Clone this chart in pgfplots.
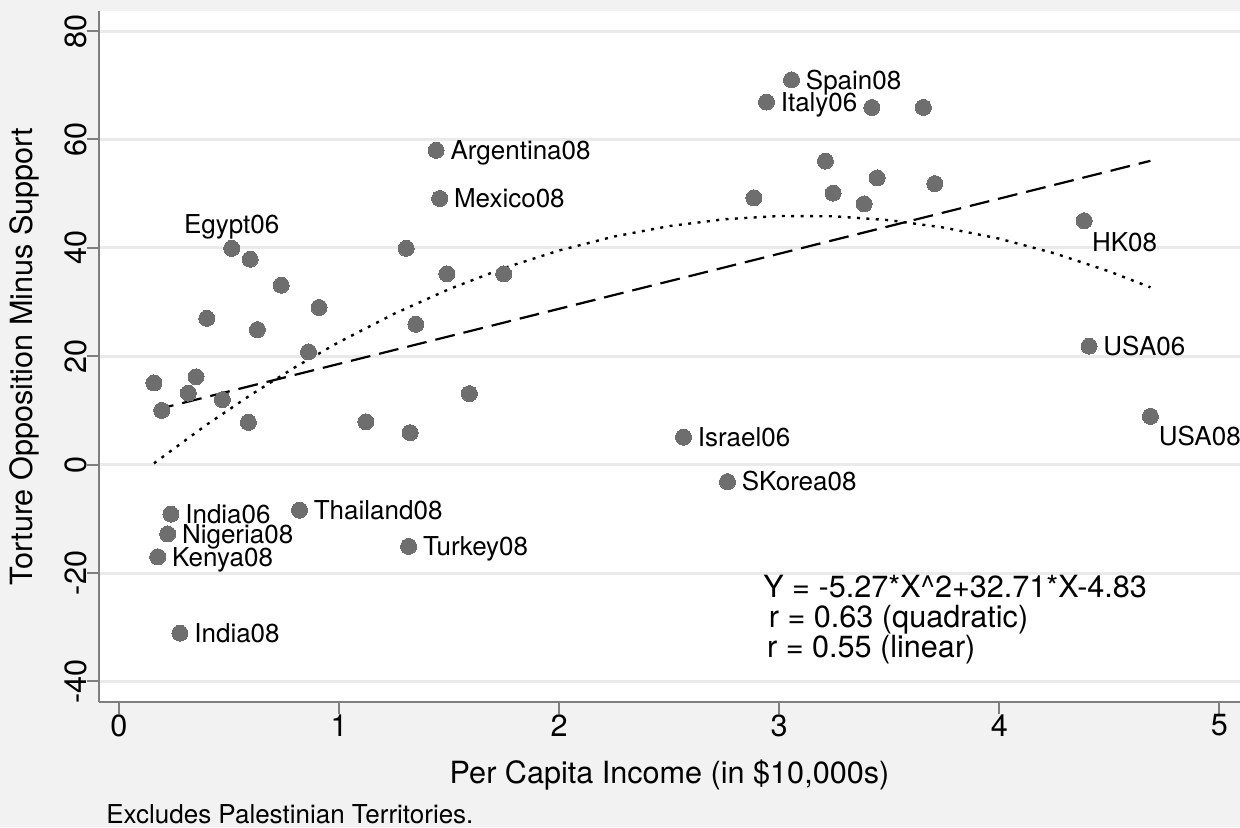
\documentclass[border=0pt]{standalone}
\usepackage{fontspec}
\setmainfont{TeX Gyre Heros}
\usepackage{pgfplots}
\pgfplotsset{compat=1.18}
\definecolor{bgc}{HTML}{F2F2F2}
\definecolor{gridc}{HTML}{EAEAEA}
\definecolor{axc}{HTML}{7F7F7F}
\definecolor{mkc}{HTML}{6E6E6E}
\newcommand{\axfont}{\fontsize{15.3}{18}\selectfont}
\newcommand{\lbfont}{\fontsize{13}{15}\selectfont}
\tikzset{lbl/.style={font=\lbfont, inner sep=0pt, text=black}}
\pgfplotstableread{
x y
3.056 71.0
2.942 66.9
3.421 65.9
3.655 65.9
3.210 56.0
3.445 52.9
3.707 51.85
3.245 50.1
2.885 49.2
3.386 48.1
4.386 45.0
4.408 21.85
4.687 8.9
2.565 5.06
2.765 -3.15
1.441 58.0
1.457 49.1
0.512 39.9
0.596 37.9
0.737 33.1
0.399 27.0
0.629 24.9
0.909 29.0
0.861 20.8
1.305 39.9
1.490 35.2
1.748 35.2
1.349 25.9
1.592 13.1
1.122 7.9
1.323 5.9
0.159 15.06
0.350 16.2
0.315 13.2
0.470 12.0
0.194 10.0
0.588 7.8
0.820 -8.4
0.236 -9.13
0.221 -12.8
0.176 -17.0
1.316 -15.1
0.277 -31.1
}\pts
\begin{document}
\begin{tikzpicture}
\fill[bgc] (-49.5pt,-62.5pt) rectangle (570.5pt,351pt);
\begin{axis}[
  at={(0,0)}, anchor=south west,
  scale only axis, width=570.5pt, height=345.5pt,
  xmin=-0.0909, xmax=5.094, ymin=-43.8, ymax=83.69,
  axis background/.style={fill=white},
  axis x line*=bottom, axis y line*=left,
  axis line style={axc, line width=1.3pt},
  xtick={0,1,2,3,4,5}, ytick={-40,-20,0,20,40,60,80},
  tick align=outside, major tick length=6pt,
  tick style={axc, line width=1pt},
  ymajorgrids, major grid style={gridc, line width=1.5pt},
  /pgf/number format/assume math mode=true,
  xticklabel style={font=\axfont, inner sep=0pt},
  yticklabel style={font=\axfont, inner sep=0pt, rotate=90, anchor=south},
  xlabel={Per Capita Income (in \$10,000s)},
  ylabel={Torture Opposition Minus Support},
  every axis x label/.style={at={(axis description cs:0.5,0)}, yshift=-40.5pt, anchor=base, font=\axfont, inner sep=0pt},
  every axis y label/.style={at={(axis description cs:0,0.5)}, xshift=-33pt, rotate=90, anchor=base, font=\axfont, inner sep=0pt},
  clip=false,
]
\addplot[only marks, mark=*, mark size=4pt, mark options={fill=mkc, draw=mkc, line width=0pt}] table[x=x, y=y] {\pts};
\addplot[black, line width=1.1pt, dash pattern=on 10pt off 4.5pt] coordinates {(0.159,10.05) (4.687,56.05)};
\addplot[black, line width=1.2pt, dash pattern=on 1.5pt off 3.2pt] coordinates {
(0.159,0.238) (0.4,7.411) (0.6,12.899) (0.8,17.965) (1.0,22.61) (1.25,27.823) (1.5,32.377) (1.75,36.273) (2.0,39.51) (2.25,42.088) (2.5,44.007) (2.75,45.269) (3.0,45.87) (3.25,45.813) (3.5,45.097) (3.75,43.724) (4.0,41.69) (4.25,38.998) (4.5,35.647) (4.687,32.71)};
% marker labels
\node[lbl, anchor=base west, xshift=7pt, yshift=-4.65pt] at (axis cs:3.056,71.0) {Spain08};
\node[lbl, anchor=base west, xshift=7pt, yshift=-4.65pt] at (axis cs:2.942,66.9) {Italy06};
\node[lbl, anchor=base west, xshift=7pt, yshift=-4.65pt] at (axis cs:1.441,58.0) {Argentina08};
\node[lbl, anchor=base west, xshift=7pt, yshift=-4.65pt] at (axis cs:1.457,49.1) {Mexico08};
\node[lbl, anchor=base, yshift=7.5pt] at (axis cs:0.512,39.9) {Egypt06};
\node[lbl, anchor=base west, xshift=3.7pt, yshift=-15.5pt] at (axis cs:4.386,45.0) {HK08};
\node[lbl, anchor=base west, xshift=7pt, yshift=-4.65pt] at (axis cs:4.408,21.85) {USA06};
\node[lbl, anchor=base west, xshift=4pt, yshift=-14.5pt] at (axis cs:4.687,8.9) {USA08};
\node[lbl, anchor=base west, xshift=7pt, yshift=-4.65pt] at (axis cs:2.565,5.06) {Israel06};
\node[lbl, anchor=base west, xshift=7pt, yshift=-4.65pt] at (axis cs:2.765,-3.15) {SKorea08};
\node[lbl, anchor=base west, xshift=7pt, yshift=-4.65pt] at (axis cs:0.820,-8.4) {Thailand08};
\node[lbl, anchor=base west, xshift=7pt, yshift=-4.65pt] at (axis cs:0.236,-9.13) {India06};
\node[lbl, anchor=base west, xshift=7pt, yshift=-4.65pt] at (axis cs:0.221,-12.8) {Nigeria08};
\node[lbl, anchor=base west, xshift=7pt, yshift=-4.65pt] at (axis cs:0.176,-17.0) {Kenya08};
\node[lbl, anchor=base west, xshift=7pt, yshift=-4.65pt] at (axis cs:1.316,-15.1) {Turkey08};
\node[lbl, anchor=base west, xshift=7pt, yshift=-4.65pt] at (axis cs:0.277,-31.1) {India08};
% fit annotation
\node[font=\axfont, inner sep=0pt, anchor=base west] at (axis cs:2.926,-24.6) {Y = -5.27*X\textasciicircum 2+32.71*X-4.83};
\node[font=\axfont, inner sep=0pt, anchor=base west] at (axis cs:2.951,-30.1) {r = 0.63 (quadratic)};
\node[font=\axfont, inner sep=0pt, anchor=base west] at (axis cs:2.943,-35.5) {r = 0.55 (linear)};
\end{axis}
\node[font=\lbfont, inner sep=0pt, anchor=base west] at (3.5pt,-60.5pt) {Excludes Palestinian Territories.};
\pgfresetboundingbox
\path[use as bounding box] (-49.5pt,-62.5pt) rectangle (570.5pt,351pt);
\end{tikzpicture}
\end{document}
